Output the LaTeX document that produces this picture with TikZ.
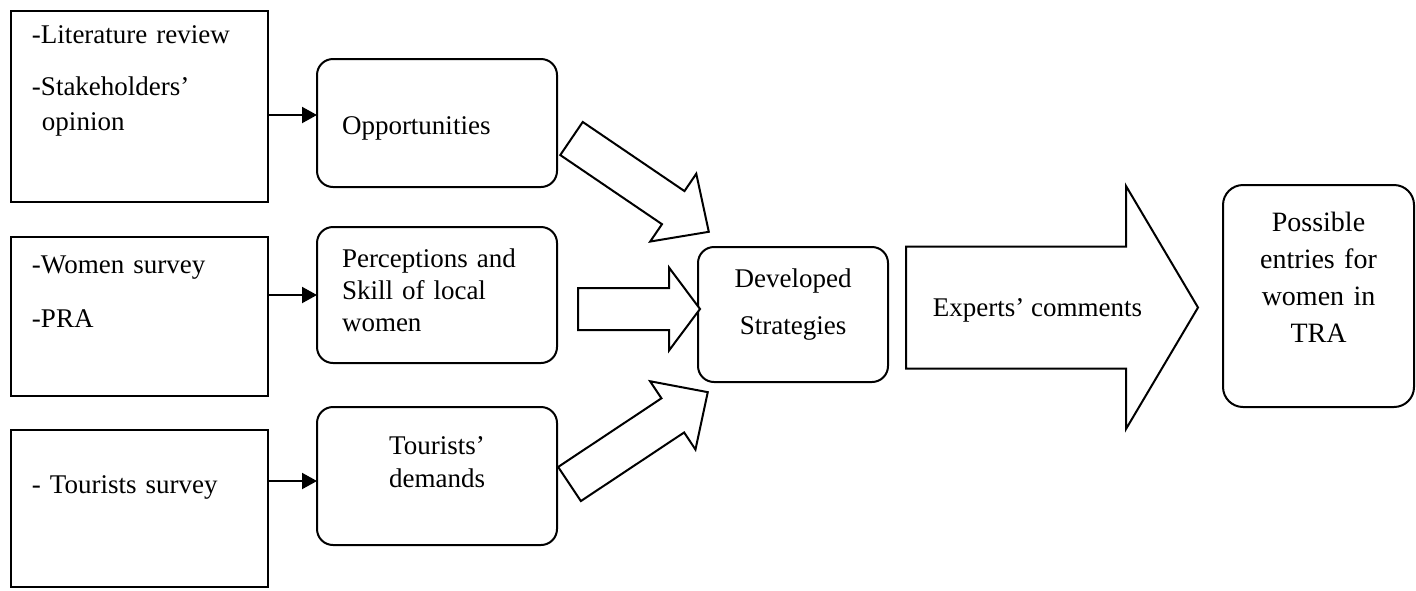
\documentclass[tikz,border=0pt]{standalone}
\usepackage{fontspec}
\setmainfont{Liberation Serif}
\usetikzlibrary{arrows.meta,positioning}
\newcommand{\blockarrow}[6]{%
  \draw[hollowarrow, shift={(#1)}, rotate=#2]
    (0,#4/2) -- (#3-#6,#4/2) -- (#3-#6,#5/2) -- (#3,0)
    -- (#3-#6,-#5/2) -- (#3-#6,-#4/2) -- (0,-#4/2) -- cycle;}
\tikzset{
  srcbox/.style={
    rectangle, draw=black, line width=1pt, anchor=north west, outer sep=0pt,
    text width=107.5pt, inner xsep=10.5pt, inner ysep=0pt,
    align=left, font=\fontsize{13.5}{17.5}\selectfont
  },
  ideabox/.style={
    rectangle, rounded corners=8pt, draw=black, line width=1pt, anchor=north west, outer sep=0pt,
    text width=95pt, inner xsep=12.5pt, inner ysep=0pt,
    align=#1, font=\fontsize{13.5}{16}\selectfont
  },
  ideabox/.default=left,
  flowarrow/.style={-{Triangle[length=7.5pt,width=8pt]}, line width=1pt},
  hollowarrow/.style={draw=black, line width=1pt, fill=white, line join=miter}
}
\begin{document}
\begin{tikzpicture}[x=0.5pt, y=-0.5pt]
\fill[white] (0,0) rectangle (1416,590);
\useasboundingbox (0,0) rectangle (1416,590);

\node[srcbox, text height=16pt, text depth=79.5pt] (lit) at (11,11) {-Literature review\\[8.5pt] -Stakeholders'\\ \hspace*{5pt}opinion};
\node[srcbox, text height=18pt, text depth=61.5pt, below=17.5pt of lit] (women) {-Women survey\\[9.5pt] -PRA};
\node[srcbox, text height=31.5pt, text depth=47pt, below=17pt of women] (tourism) {- Tourists survey};

\node[ideabox, text height=37.5pt, text depth=26.5pt] (opp) at (317,59) {Opportunities};
\node[ideabox, text height=20pt, text depth=48pt, below=20pt of opp] (perc) {Perceptions and\\ Skill of local\\ women};
\node[ideabox=center, text height=23.5pt, text depth=45.5pt, below=22pt of perc] (demand) {Tourists'\\[0.5pt] demands};

\node[ideabox=center, text width=75pt, inner xsep=10pt, text height=20pt, text depth=47.5pt] (dev) at (698,247) {Developed\\[7.5pt] Strategies};
\node[ideabox=center, rounded corners=10pt, text width=77.5pt, inner xsep=9pt, text height=23pt, text depth=88pt,
  font=\fontsize{14}{16}\selectfont] (entry) at (1223,185) {Possible\\[2.5pt] entries for\\[2.5pt] women in\\[2.5pt] TRA};

\coordinate (oppin) at ([yshift=4pt]opp.west);
\coordinate (demandin) at ([yshift=-2.5pt]demand.west);
\draw[flowarrow] (lit.east |- oppin) -- (oppin);
\draw[flowarrow] (women.east |- perc.west) -- (perc.west);
\draw[flowarrow] (tourism.east |- demandin) -- (demandin);

% block arrows: tail, angle, length, body, head, head length
\coordinate (oppout) at (571.5,138.5);
\coordinate (percout) at (578,309);
\coordinate (demandout) at (569.5,484);
\coordinate (devout) at (906,307.5);
\blockarrow{oppout}{-34.2}{166}{40}{82}{43}
\blockarrow{percout}{0}{122}{42}{83}{31}
\blockarrow{demandout}{33.6}{166}{41}{82}{42}
\blockarrow{devout}{0}{292}{122}{243}{72}

\node[anchor=base, font=\fontsize{13.5}{16}\selectfont] (expert) at (1037.5,316) {Experts' comments};
\end{tikzpicture}
\end{document}
